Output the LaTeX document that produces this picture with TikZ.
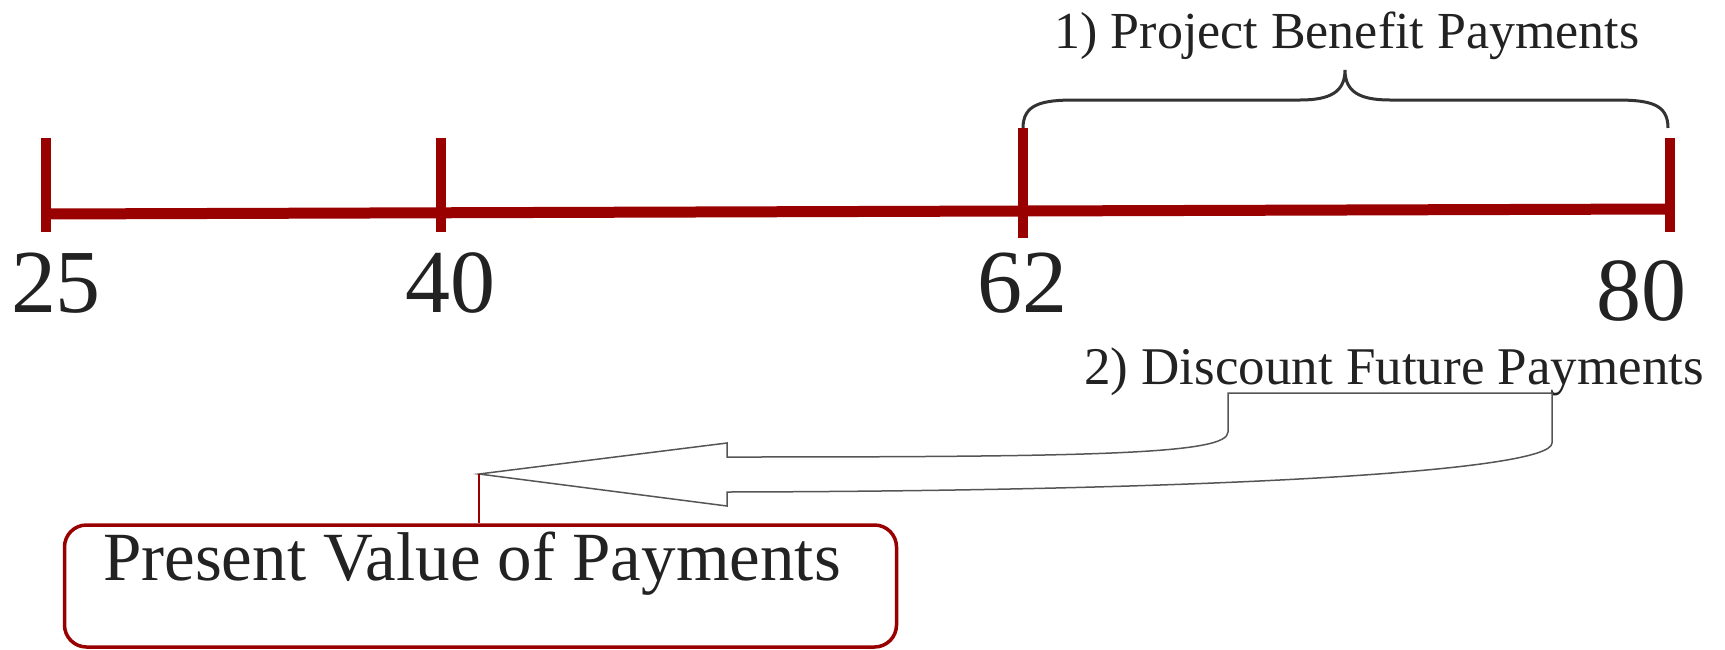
\documentclass[tikz,border=0pt]{standalone}
\usepackage{fontspec}
\setmainfont{Liberation Serif}
\definecolor{tlred}{HTML}{990000}
\definecolor{txt}{HTML}{222222}
\definecolor{brc}{HTML}{333333}
\definecolor{arr}{HTML}{555555}
\begin{document}
\begin{tikzpicture}[x=1pt,y=-1pt,
  tline/.style={draw=tlred,line width=11pt},
  tick/.style={draw=tlred,line width=10pt},
  year/.style={font=\fontsize{90}{90}\selectfont,text=txt,anchor=base,inner sep=0pt},
  lbl/.style={font=\fontsize{53}{53}\selectfont,text=txt,anchor=base,inner sep=0pt},
  bracestyle/.style={draw=brc,line width=3pt},
  blockarrow/.style={draw=arr,line width=1.5pt,fill=white,line join=miter},
  pvbox/.style={draw=tlred,line width=3.5pt,rounded corners=22pt,fill=white,minimum width=832pt,minimum height=122pt,inner sep=0pt},
  pvtext/.style={font=\fontsize{69}{69}\selectfont,text=txt,anchor=base,inner sep=0pt},
  stem/.style={draw=tlred,line width=2.5pt}]
\useasboundingbox (0,0) rectangle (1725,649);
% timeline
\coordinate (L) at (42,214);
\coordinate (R) at (1670,209);
\draw[tline] (L) -- (R);
\coordinate (a1) at (46,138);  \coordinate (a2) at (46,232);
\coordinate (b1) at (441,138); \coordinate (b2) at (441,232);
\coordinate (c1) at (1023,128); \coordinate (c2) at (1023,238);
\coordinate (d1) at (1670,138); \coordinate (d2) at (1670,232);
\draw[tick] (a1) -- (a2);
\draw[tick] (b1) -- (b2);
\draw[tick] (c1) -- (c2);
\draw[tick] (d1) -- (d2);
\node[year] (y25) at (56,312) {25};
\node[year] (y40) at (450,312) {40};
\node[year] (y62) at (1022,312) {62};
\node[year] (y80) at (1641,320) {80};
% brace
\draw[bracestyle] (1023,128) .. controls (1023,104) and (1042,100) .. (1075,100)
  -- (1300,100) .. controls (1330,100) and (1345,92) .. (1345,70)
  .. controls (1345,92) and (1360,100) .. (1390,100)
  -- (1616,100) .. controls (1650,100) and (1668,104) .. (1668,128);
\node[lbl,font=\fontsize{52}{52}\selectfont] (l1) at (1347,48) {1) Project Benefit Payments};
\node[lbl] (l2) at (1394,384) {2) Discount Future Payments};
% block arrow
\coordinate (tip) at (479,474);
\draw[blockarrow] (tip) -- (727,443) -- (727,457)
  .. controls (1100,457) and (1228,454) .. (1228,432) -- (1228,393) -- (1552,393) -- (1552,443)
  .. controls (1552,472) and (1200,491) .. (727,492) -- (727,506) -- cycle;
% present value box
\node[pvbox] (pv) at (480.5,586) {};
\node[pvtext] (pvt) at (472,580) {Present Value of Payments};
\draw[stem] (tip) -- (tip |- pv.north);
\end{tikzpicture}
\end{document}
